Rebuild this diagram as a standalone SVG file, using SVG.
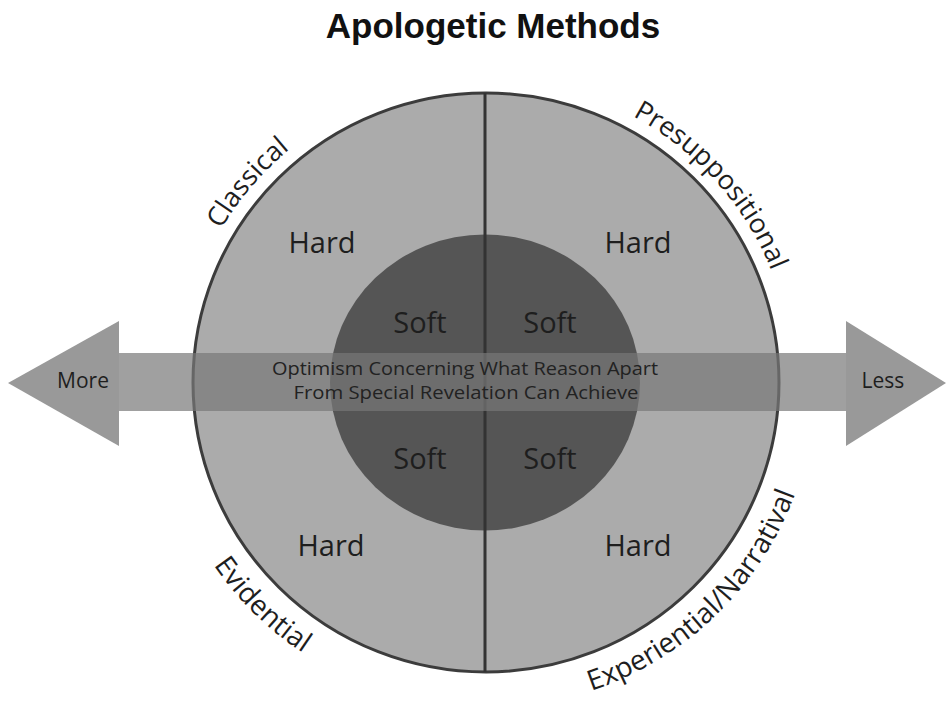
<svg xmlns="http://www.w3.org/2000/svg" xmlns:xlink="http://www.w3.org/1999/xlink" width="948" height="705" viewBox="0 0 948 705">
  <style>
    .lbl { font-family: "Open Sans", "Noto Sans", "DejaVu Sans", sans-serif; fill: #1e1e1e; }
    .hs { font-size: 29px; text-anchor: middle; }
    .arc { font-size: 27px; }
    .arcb { font-size: 28px; }
    .mid { font-size: 18px; text-anchor: middle; fill: #222; }
    .end { font-size: 21px; text-anchor: middle; }
    .title { font-family: "Liberation Sans", Arial, sans-serif; font-weight: bold; font-size: 35px; text-anchor: middle; fill: #111; }
  </style>
  <defs>
    <path id="topArc" d="M 179 382.5 A 307 303.5 0 0 1 793 382.5" fill="none"/>
    <path id="botArc" d="M 157 382.5 A 329 325.5 0 0 0 815 382.5" fill="none"/>
  </defs>
  <rect width="948" height="705" fill="#ffffff"/>
  <text class="title" x="493" y="38">Apologetic Methods</text>

  <g id="outer-circle">
    <ellipse cx="486" cy="382.5" rx="293" ry="289.5" fill="#ababab" stroke="#3c3c3c" stroke-width="3"/>
  </g>
  <g id="inner-circle">
    <ellipse cx="485" cy="382.5" rx="155" ry="148" fill="#555555"/>
  </g>
  <g id="divider">
    <line x1="485" y1="93" x2="485" y2="672" stroke="#333333" stroke-width="3"/>
  </g>

  <g id="connectors">
    <rect x="119" y="353" width="727" height="58" fill="#777777" fill-opacity="0.7"/>
    <polygon points="8,383 119,321 119,446" fill="#999999"/>
    <polygon points="846,321 946,383 846,446" fill="#999999"/>
  </g>

  <g id="quadrant-classical">
    <text class="lbl arc"><textPath xlink:href="#topArc" href="#topArc" startOffset="22.3%" text-anchor="middle">Classical</textPath></text>
    <text class="lbl hs" x="322" y="253">Hard</text>
    <text class="lbl hs" x="420" y="333">Soft</text>
  </g>
  <g id="quadrant-presuppositional">
    <text class="lbl arc"><textPath xlink:href="#topArc" href="#topArc" startOffset="77%" text-anchor="middle">Presuppositional</textPath></text>
    <text class="lbl hs" x="638" y="253">Hard</text>
    <text class="lbl hs" x="550" y="333">Soft</text>
  </g>
  <g id="quadrant-evidential">
    <text class="lbl arcb"><textPath xlink:href="#botArc" href="#botArc" startOffset="25%" text-anchor="middle">Evidential</textPath></text>
    <text class="lbl hs" x="331" y="556">Hard</text>
    <text class="lbl hs" x="420" y="469">Soft</text>
  </g>
  <g id="quadrant-experiential">
    <text class="lbl arcb"><textPath xlink:href="#botArc" href="#botArc" startOffset="74.7%" text-anchor="middle">Experiential/Narratival</textPath></text>
    <text class="lbl hs" x="638" y="556">Hard</text>
    <text class="lbl hs" x="550" y="469">Soft</text>
  </g>

  <g id="axis-labels">
    <text class="lbl end" x="83" y="388">More</text>
    <text class="lbl end" x="883" y="388">Less</text>
    <text class="lbl mid" x="465" y="375" textLength="386" lengthAdjust="spacingAndGlyphs">Optimism Concerning What Reason Apart</text>
    <text class="lbl mid" x="466" y="399" textLength="345" lengthAdjust="spacingAndGlyphs">From Special Revelation Can Achieve</text>
  </g>
</svg>
